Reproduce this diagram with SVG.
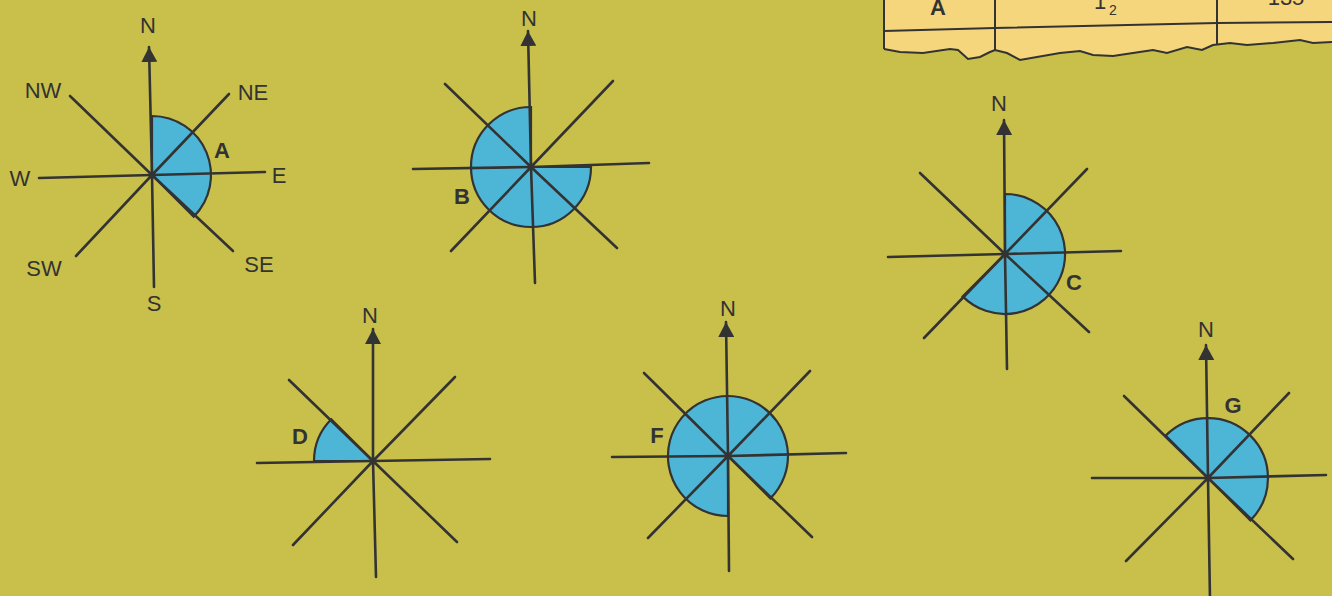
<svg xmlns="http://www.w3.org/2000/svg" width="1332" height="596" viewBox="0 0 1332 596">
<style>
.ray{stroke:#333;stroke-width:2.6;fill:none;stroke-linecap:round}
.sec{fill:#4db6d6;stroke:#333;stroke-width:2.2}
.lbl{font-family:"Liberation Sans",Arial,sans-serif;font-size:22px;fill:#333}
.bold{font-family:"Liberation Sans",Arial,sans-serif;font-size:22px;font-weight:bold;fill:#333}
.dot{fill:#333}
.tbl{stroke:#333;stroke-width:2;fill:none}
</style>
<defs>
<marker id="arr" markerUnits="userSpaceOnUse" viewBox="0 0 16 16" markerWidth="16" markerHeight="16" refX="15" refY="8" orient="auto">
<path d="M0,0 L15,8 L0,16 z" fill="#333"/>
</marker>
</defs>
<rect width="1332" height="596" fill="#c9c04b"/>

<g id="table">
<path d="M884,0 L1332,0 L1332,42 L1313,43 L1300,40 L1273,43 L1247,45 L1230,43 L1213,45 L1202,50 L1187,47 L1167,53 L1153,50 L1133,53 L1113,56 L1093,55 L1080,51 L1060,53 L1037,57 L1020,60 L1007,53 L995,50 L990,52 L980,57 L968,59 L958,50 L950,49 L923,53 L900,52 L884,49 Z" fill="#f6d67c"/>
<path class="tbl" d="M1332,42 L1313,43 L1300,40 L1273,43 L1247,45 L1230,43 L1213,45 L1202,50 L1187,47 L1167,53 L1153,50 L1133,53 L1113,56 L1093,55 L1080,51 L1060,53 L1037,57 L1020,60 L1007,53 L995,50 L990,52 L980,57 L968,59 L958,50 L950,49 L923,53 L900,52 L884,49"/>
<line class="tbl" x1="884" y1="0" x2="884" y2="49"/>
<line class="tbl" x1="995" y1="0" x2="995" y2="50"/>
<line class="tbl" x1="1217" y1="0" x2="1217" y2="45"/>
<path class="tbl" d="M884,31 L995,28 L1217,23 L1332,22"/>
<text class="bold" x="938" y="15" text-anchor="middle">A</text>
<text class="lbl" x="1100" y="9" text-anchor="middle">1</text>
<text class="lbl" x="1113" y="15" text-anchor="middle" style="font-size:14px">2</text>
<text class="lbl" x="1286" y="5" text-anchor="middle">135</text>
</g>

<g id="compass-A">
<path class="sec" d="M152,175 L152,116 A59,59 0 0 1 193.7,216.7 Z"/>
<line class="ray" x1="152" y1="175" x2="149" y2="47" marker-end="url(#arr)"/>
<line class="ray" x1="152" y1="175" x2="154" y2="287"/>
<line class="ray" x1="152" y1="175" x2="39" y2="178"/>
<line class="ray" x1="152" y1="175" x2="265" y2="172"/>
<line class="ray" x1="152" y1="175" x2="70" y2="96"/>
<line class="ray" x1="152" y1="175" x2="229" y2="94"/>
<line class="ray" x1="152" y1="175" x2="76" y2="256"/>
<line class="ray" x1="152" y1="175" x2="233" y2="251"/>
<circle class="dot" cx="152" cy="175" r="3.5"/>
<text class="lbl" x="148" y="33" text-anchor="middle">N</text>
<text class="lbl" x="43" y="98" text-anchor="middle">NW</text>
<text class="lbl" x="253" y="100" text-anchor="middle">NE</text>
<text class="lbl" x="20" y="186" text-anchor="middle">W</text>
<text class="lbl" x="279" y="183" text-anchor="middle">E</text>
<text class="lbl" x="44" y="276" text-anchor="middle">SW</text>
<text class="lbl" x="259" y="272" text-anchor="middle">SE</text>
<text class="lbl" x="154" y="311" text-anchor="middle">S</text>
<text class="bold" x="222" y="158" text-anchor="middle">A</text>
</g>

<g id="compass-B">
<path class="sec" d="M531,167 L591,167 A60,60 0 1 1 531,107 Z"/>
<line class="ray" x1="531" y1="167" x2="528" y2="31" marker-end="url(#arr)"/>
<line class="ray" x1="531" y1="167" x2="535" y2="283"/>
<line class="ray" x1="531" y1="167" x2="413" y2="169"/>
<line class="ray" x1="531" y1="167" x2="649" y2="163"/>
<line class="ray" x1="531" y1="167" x2="445" y2="84"/>
<line class="ray" x1="531" y1="167" x2="613" y2="81"/>
<line class="ray" x1="531" y1="167" x2="451" y2="251"/>
<line class="ray" x1="531" y1="167" x2="617" y2="248"/>
<circle class="dot" cx="531" cy="167" r="3.5"/>
<text class="lbl" x="529" y="26" text-anchor="middle">N</text>
<text class="bold" x="462" y="204" text-anchor="middle">B</text>
</g>

<g id="compass-C">
<path class="sec" d="M1005,254 L1005,194 A60,60 0 1 1 962.6,296.4 Z"/>
<line class="ray" x1="1005" y1="254" x2="1004" y2="120" marker-end="url(#arr)"/>
<line class="ray" x1="1005" y1="254" x2="1007" y2="369"/>
<line class="ray" x1="1005" y1="254" x2="888" y2="257"/>
<line class="ray" x1="1005" y1="254" x2="1121" y2="251"/>
<line class="ray" x1="1005" y1="254" x2="920" y2="173"/>
<line class="ray" x1="1005" y1="254" x2="1087" y2="169"/>
<line class="ray" x1="1005" y1="254" x2="924" y2="338"/>
<line class="ray" x1="1005" y1="254" x2="1089" y2="332"/>
<circle class="dot" cx="1005" cy="254" r="3.5"/>
<text class="lbl" x="999" y="111" text-anchor="middle">N</text>
<text class="bold" x="1074" y="290" text-anchor="middle">C</text>
</g>

<g id="compass-D">
<path class="sec" d="M373,461 L314,461 A59,59 0 0 1 331.3,419.3 Z"/>
<line class="ray" x1="373" y1="461" x2="373" y2="329" marker-end="url(#arr)"/>
<line class="ray" x1="373" y1="461" x2="376" y2="577"/>
<line class="ray" x1="373" y1="461" x2="257" y2="463"/>
<line class="ray" x1="373" y1="461" x2="490" y2="459"/>
<line class="ray" x1="373" y1="461" x2="289" y2="380"/>
<line class="ray" x1="373" y1="461" x2="455" y2="377"/>
<line class="ray" x1="373" y1="461" x2="293" y2="545"/>
<line class="ray" x1="373" y1="461" x2="457" y2="542"/>
<circle class="dot" cx="373" cy="461" r="3.5"/>
<text class="lbl" x="370" y="323" text-anchor="middle">N</text>
<text class="bold" x="300" y="444" text-anchor="middle">D</text>
</g>

<g id="compass-F">
<path class="sec" d="M728,456 L728,516 A60,60 0 1 1 770.4,498.4 Z"/>
<line class="ray" x1="728" y1="456" x2="726" y2="322" marker-end="url(#arr)"/>
<line class="ray" x1="728" y1="456" x2="729" y2="571"/>
<line class="ray" x1="728" y1="456" x2="612" y2="457"/>
<line class="ray" x1="728" y1="456" x2="846" y2="453"/>
<line class="ray" x1="728" y1="456" x2="644" y2="373"/>
<line class="ray" x1="728" y1="456" x2="810" y2="371"/>
<line class="ray" x1="728" y1="456" x2="648" y2="538"/>
<line class="ray" x1="728" y1="456" x2="812" y2="537"/>
<circle class="dot" cx="728" cy="456" r="3.5"/>
<text class="lbl" x="728" y="316" text-anchor="middle">N</text>
<text class="bold" x="657" y="443" text-anchor="middle">F</text>
</g>

<g id="compass-G">
<path class="sec" d="M1208,478 L1165.6,435.6 A60,60 0 0 1 1250.4,435.6 A60,60 0 0 1 1250.4,520.4 Z"/>
<line class="ray" x1="1208" y1="478" x2="1206" y2="345" marker-end="url(#arr)"/>
<line class="ray" x1="1208" y1="478" x2="1210" y2="600"/>
<line class="ray" x1="1208" y1="478" x2="1092" y2="478"/>
<line class="ray" x1="1208" y1="478" x2="1326" y2="475"/>
<line class="ray" x1="1208" y1="478" x2="1124" y2="396"/>
<line class="ray" x1="1208" y1="478" x2="1289" y2="393"/>
<line class="ray" x1="1208" y1="478" x2="1126" y2="561"/>
<line class="ray" x1="1208" y1="478" x2="1293" y2="559"/>
<circle class="dot" cx="1208" cy="478" r="3.5"/>
<text class="lbl" x="1206" y="337" text-anchor="middle">N</text>
<text class="bold" x="1233" y="413" text-anchor="middle">G</text>
</g>
</svg>
